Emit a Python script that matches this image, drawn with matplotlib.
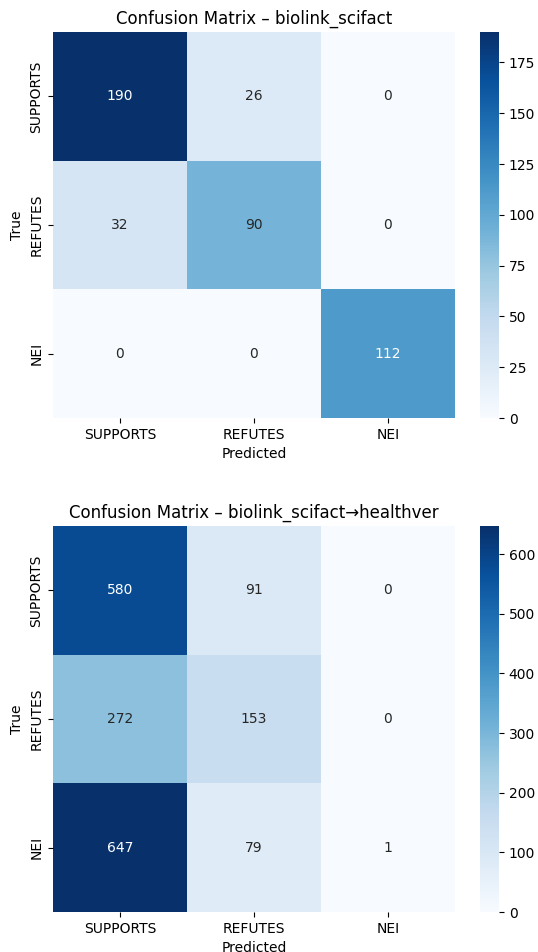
import numpy as np
import matplotlib
matplotlib.use("Agg")
import matplotlib.pyplot as plt
import seaborn as sns

labels = ["SUPPORTS", "REFUTES", "NEI"]

cm_scifact = [[190, 26, 0],
              [32, 90, 0],
              [0, 0, 112]]

cm_healthver = [[580, 91, 0],
                [272, 153, 0],
                [647, 79, 1]]

titles = ["Confusion Matrix \u2013 biolink_scifact",
          "Confusion Matrix \u2013 biolink_scifact\u2192healthver"]

W, H = 538, 952
fig = plt.figure(figsize=(W / 100, H / 100), dpi=100)

# pixel boxes (left, top, right, bottom)
boxes = [(53, 32, 455, 418), (53, 526, 455, 912)]
cbar_x = (480, 499)

for (l, t, r, b), cm, title in zip(boxes, [cm_scifact, cm_healthver], titles):
    ax = fig.add_axes([l / W, 1 - b / H, (r - l) / W, (b - t) / H])
    cax = fig.add_axes([cbar_x[0] / W, 1 - b / H, (cbar_x[1] - cbar_x[0]) / W, (b - t) / H])
    sns.heatmap(np.array(cm), annot=True, fmt="d", cmap="Blues",
                xticklabels=labels, yticklabels=labels, ax=ax, cbar_ax=cax)
    ax.set_title(title)
    ax.set_xlabel("Predicted")
    ax.set_ylabel("True")

fig.savefig("out.png", dpi=100)
